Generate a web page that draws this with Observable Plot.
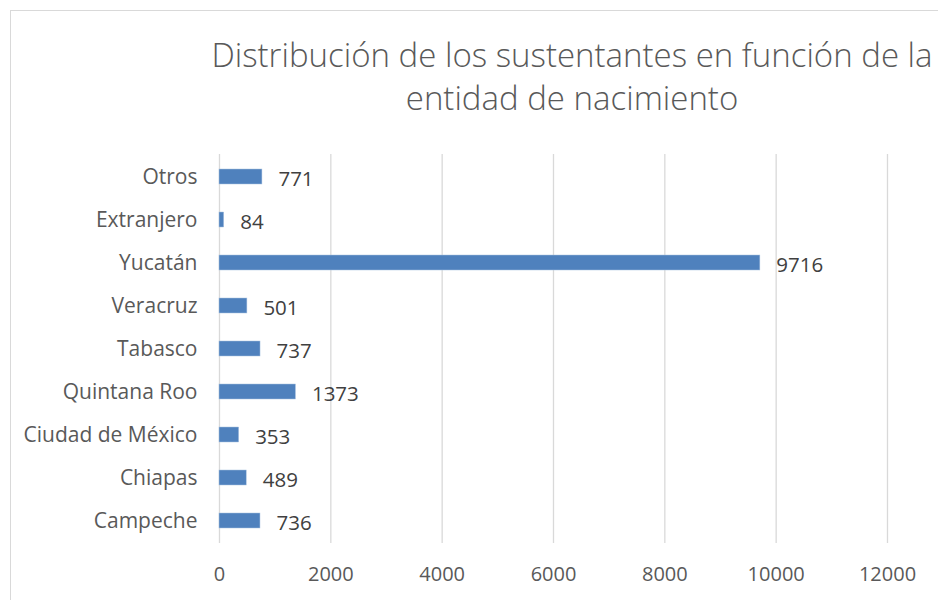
<!DOCTYPE html>
<html>
<head>
<meta charset="utf-8">
<script src="https://cdn.jsdelivr.net/npm/d3@7"></script>
<script src="https://cdn.jsdelivr.net/npm/@observablehq/plot@0.6"></script>
<style>
  html, body { margin: 0; padding: 0; background: #fff; overflow: hidden; }
  #wrap { position: relative; width: 938px; height: 600px; overflow: hidden; font-family: "Open Sans", sans-serif; }
  #frame { position: absolute; left: 10px; top: 10px; width: 1100px; height: 800px; border: 1px solid #d9d9d9; box-sizing: border-box; }
  #title { position: absolute; left: 72px; width: 1000px; top: 33px; text-align: center; font-size: 33px; font-weight: 300; line-height: 43px; color: #595959; white-space: nowrap; }
  #chart { position: absolute; left: 0; top: 0; }
  #chart svg g[aria-label="y-axis tick label"] text { font-size: 21px; }
</style>
</head>
<body>
<div id="wrap">
  <div id="frame"></div>
  <div id="title">Distribución de los sustentantes en función de la<br>entidad de nacimiento</div>
  <div id="chart"></div>
</div>
<script>
const categories = ["Otros", "Extranjero", "Yucatán", "Veracruz", "Tabasco", "Quintana Roo", "Ciudad de México", "Chiapas", "Campeche"];
const values = [771, 84, 9716, 501, 737, 1373, 353, 489, 736];
const xTicks = [0, 2000, 4000, 6000, 8000, 10000, 12000];

const data = categories.map((c, i) => ({ category: c, value: values[i] }));

const chart = Plot.plot({
  width: 938,
  height: 600,
  marginLeft: 219,
  marginRight: 51,
  marginTop: 154,
  marginBottom: 57,
  style: { fontFamily: "'Open Sans', sans-serif", fontSize: "20px", color: "#595959", background: "transparent" },
  x: { domain: [0, 12000], ticks: xTicks, tickSize: 0, tickPadding: 23, tickFormat: d => String(d), label: null },
  y: { domain: categories, paddingInner: 0.65, paddingOuter: 0.325, tickSize: 0, tickPadding: 22, label: null },
  marks: [
    Plot.ruleX(xTicks, { stroke: "#d9d9d9", strokeWidth: 1.3 }),
    Plot.barX(data, { x: "value", y: "category", fill: "#4f81bd", stroke: "#a9c1e0", strokeWidth: 0.5 }),
    Plot.text(data, { x: "value", y: "category", text: d => String(d.value), textAnchor: "start", dx: 16, dy: 2, fill: "#404040", fontSize: 20.5 })
  ]
});
document.getElementById("chart").appendChild(chart);
</script>
</body>
</html>
